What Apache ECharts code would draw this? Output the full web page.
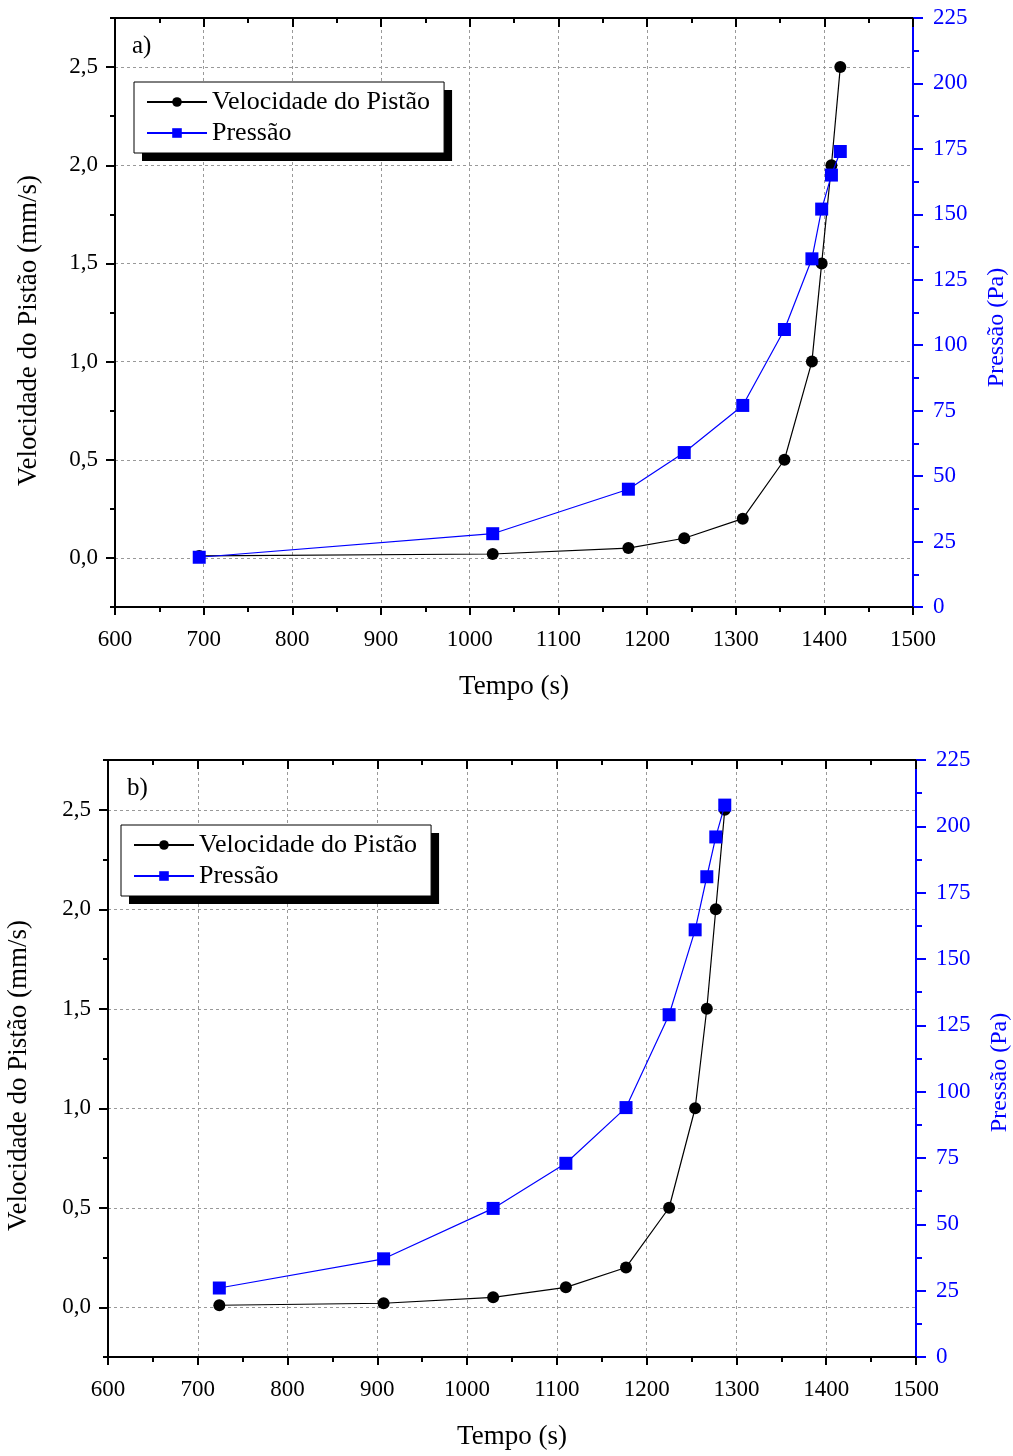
<!DOCTYPE html>
<html>
<head>
<meta charset="utf-8">
<script src="https://cdn.jsdelivr.net/npm/echarts@6/dist/echarts.min.js"></script>
<style>
  html, body { margin: 0; padding: 0; background: #fff; }
  #main { width: 1013px; height: 1456px; }
</style>
</head>
<body>
<div id="main"></div>
<script>
// dados
var tempoA = [695, 1026, 1179, 1242, 1308, 1355, 1386, 1397, 1408, 1418];
var velA   = [0.01, 0.02, 0.05, 0.10, 0.20, 0.50, 1.00, 1.50, 2.00, 2.50];
var presA  = [19, 28, 45, 59, 77, 106, 133, 152, 165, 174];

var tempoB = [724, 907, 1029, 1110, 1177, 1225, 1254, 1267, 1277, 1287];
var velB   = [0.01, 0.02, 0.05, 0.10, 0.20, 0.50, 1.00, 1.50, 2.00, 2.50];
var presB  = [26, 37, 56, 73, 94, 129, 161, 181, 196, 208];

var velTicks = [0, 0.5, 1.0, 1.5, 2.0, 2.5];
var nomeVel = 'Velocidade do Pistão';
var nomePres = 'Pressão';

var FONT = 'Liberation Serif';
var BLUE = '#0000ff';
var GRID_LINE = { show: true, lineStyle: { color: '#999', type: [3, 3], width: 1 } };

function pares(xs, ys) {
    var out = [];
    for (var i = 0; i < xs.length; i++) out.push([xs[i], ys[i]]);
    return out;
}

function xBottom(g) {
    return {
        type: 'value', gridIndex: g, position: 'bottom',
        min: 600, max: 1500, interval: 100,
        name: 'Tempo (s)', nameLocation: 'middle', nameGap: 66,
        nameTextStyle: { fontFamily: FONT, fontSize: 27, color: '#000' },
        axisLine: { show: true, onZero: false, lineStyle: { color: '#000', width: 2 } },
        axisTick: { show: true, length: 8, lineStyle: { color: '#000', width: 2 } },
        minorTick: { show: true, splitNumber: 2, length: 5, lineStyle: { color: '#000', width: 2 } },
        axisLabel: {
            margin: 21, fontFamily: FONT, fontSize: 23, color: '#000',
            formatter: function (v) { return String(v); }
        },
        splitLine: GRID_LINE
    };
}
function xTop(g) {
    return {
        type: 'value', gridIndex: g, position: 'top',
        min: 600, max: 1500, interval: 100,
        axisLine: { show: true, onZero: false, lineStyle: { color: '#000', width: 2 } },
        axisTick: { show: true, inside: true, length: 9, lineStyle: { color: '#000', width: 2 } },
        minorTick: { show: true, splitNumber: 2, length: 5, lineStyle: { color: '#000', width: 2 } },
        axisLabel: { show: false },
        splitLine: { show: false }
    };
}
// desloc: empurra o titulo do eixo um pouco para baixo, como no original
function yVel(g, gap, desloc) {
    return {
        type: 'value', gridIndex: g, position: 'left',
        min: -0.25, max: 2.75, interval: 0.25,
        name: 'Velocidade do Pistão (mm/s)', nameLocation: 'middle', nameGap: gap,
        nameTextStyle: { fontFamily: FONT, fontSize: 27, color: '#000', padding: [0, desloc, 0, 0] },
        axisLine: { show: true, onZero: false, lineStyle: { color: '#000', width: 2 } },
        axisTick: { show: true, length: 9, customValues: velTicks, lineStyle: { color: '#000', width: 2 } },
        axisLabel: {
            customValues: velTicks, margin: 17, fontFamily: FONT, fontSize: 23, color: '#000',
            formatter: function (v) { return v.toFixed(1).replace('.', ','); }
        },
        splitLine: GRID_LINE
    };
}
// so para os tracinhos menores do eixo da esquerda
function yVelMinor(g) {
    return {
        type: 'value', gridIndex: g, position: 'left',
        min: -0.25, max: 2.75, interval: 0.25,
        axisLine: { show: false },
        axisTick: { show: true, length: 5, lineStyle: { color: '#000', width: 2 } },
        axisLabel: { show: false },
        splitLine: { show: false }
    };
}
function yPres(g, gap, desloc) {
    return {
        type: 'value', gridIndex: g, position: 'right',
        min: 0, max: 225, interval: 25,
        name: 'Pressão (Pa)', nameLocation: 'middle', nameGap: gap,
        nameTextStyle: { fontFamily: FONT, fontSize: 24, color: BLUE, padding: [0, desloc, 0, 0] },
        axisLine: { show: true, onZero: false, lineStyle: { color: BLUE, width: 2 } },
        axisTick: { show: true, length: 10, lineStyle: { color: BLUE, width: 2 } },
        minorTick: { show: true, splitNumber: 2, length: 6, lineStyle: { color: BLUE, width: 2 } },
        axisLabel: { margin: 20, fontFamily: FONT, fontSize: 23, color: BLUE },
        splitLine: { show: false }
    };
}
function legenda(left, top) {
    return {
        orient: 'vertical', left: left, top: top, z: 6,
        data: [nomeVel, nomePres],
        itemWidth: 60, itemHeight: 12, itemGap: 5,
        padding: [7, 14, 7, 12],
        backgroundColor: '#fff', borderColor: '#000', borderWidth: 1,
        textStyle: { fontFamily: FONT, fontSize: 26, color: '#000' },
        selectedMode: false
    };
}
// copia preta deslocada, faz a sombra da caixa da legenda
function sombra(left, top) {
    var l = legenda(left + 8, top + 8);
    l.z = 5;
    l.backgroundColor = '#000';
    l.borderWidth = 0;
    l.textStyle = { fontFamily: FONT, fontSize: 26, color: 'rgba(0,0,0,0)' };
    l.itemStyle = { opacity: 0 };
    l.lineStyle = { opacity: 0 };
    return l;
}
function serieVel(xi, yi, xs, ys) {
    return {
        name: nomeVel, type: 'line', xAxisIndex: xi, yAxisIndex: yi,
        data: pares(xs, ys),
        symbol: 'circle', symbolSize: 12,
        itemStyle: { color: '#000' },
        lineStyle: { color: '#000', width: 1.2 },
        z: 3
    };
}
function seriePres(xi, yi, xs, ys) {
    return {
        name: nomePres, type: 'line', xAxisIndex: xi, yAxisIndex: yi,
        data: pares(xs, ys),
        symbol: 'rect', symbolSize: 13,
        itemStyle: { color: BLUE },
        lineStyle: { color: BLUE, width: 1.2 },
        z: 4
    };
}

var option = {
    animation: false,
    backgroundColor: '#fff',
    title: [
        { text: 'a)', left: 127, top: 29, textStyle: { fontFamily: FONT, fontSize: 25, fontWeight: 'normal', color: '#000' } },
        { text: 'b)', left: 122, top: 771, textStyle: { fontFamily: FONT, fontSize: 25, fontWeight: 'normal', color: '#000' } }
    ],
    legend: [sombra(134, 82), legenda(134, 82), sombra(121, 825), legenda(121, 825)],
    grid: [
        { left: 115, right: 100, top: 18, height: 589, outerBoundsMode: 'none' },
        { left: 108, right: 97, top: 760, height: 597, outerBoundsMode: 'none' }
    ],
    xAxis: [xBottom(0), xTop(0), xBottom(1), xTop(1)],
    yAxis: [
        yVel(0, 73, 36), yPres(0, 72, 30), yVelMinor(0),
        yVel(1, 76, 34), yPres(1, 72, 28), yVelMinor(1)
    ],
    series: [
        serieVel(0, 0, tempoA, velA),
        seriePres(0, 1, tempoA, presA),
        serieVel(2, 3, tempoB, velB),
        seriePres(2, 4, tempoB, presB)
    ]
};

var myChart = echarts.init(document.getElementById('main'));
myChart.setOption(option);
</script>
</body>
</html>
